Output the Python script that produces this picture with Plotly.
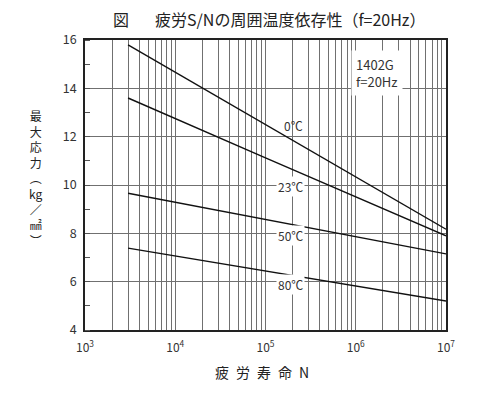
import plotly.graph_objects as go
import numpy as np

# ---- data ----
cycles = [3e3, 1e5, 1e7]
s_0c = [15.8, 12.5, 8.17]
s_23c = [13.6, 11.12, 7.9]
s_50c = [9.66, 8.58, 7.15]
s_80c = [7.39, 6.44, 5.2]
series_names = ["0℃", "23℃", "50℃", "80℃"]
label_y = [12.45, 9.95, 7.9, 5.9]
label_x = 2.75e5
decades = [3, 4, 5, 6, 7]
y_ticks = [4, 6, 8, 10, 12, 14, 16]

FONT = "Noto Sans CJK JP"
OFF = 8  # default page body margin
W, H = 500 - OFF, 396 - OFF
L, T = 85 - OFF, 40 - OFF
PW, PH = 361, 290
R = W - L - PW
B = H - T - PH


def px(x):
    return (x - OFF - L) / PW


def py(y):
    return (H - B - (y - OFF)) / PH


fig = go.Figure()
for name, vals in zip(series_names, [s_0c, s_23c, s_50c, s_80c]):
    fig.add_trace(go.Scatter(x=cycles, y=vals, mode="lines", name=name,
                             line=dict(color="#111", width=1.4), showlegend=False))

grid_vals = []
grid_text = []
for d in decades:
    for m in range(1, 10):
        if d == 7 and m > 1:
            break
        grid_vals.append(m * 10 ** d)
        grid_text.append(f"10<sup>{d}</sup>" if m == 1 else "")

fig.update_xaxes(type="log", range=[3, 7], tickmode="array", tickvals=grid_vals,
                 ticktext=grid_text, showgrid=True, gridcolor="#707070", gridwidth=1,
                 showline=True, linecolor="#222", linewidth=1.5, mirror=True,
                 ticks="", tickfont=dict(family=FONT, size=12, color="#333"),
                 ticklabelstandoff=6, zeroline=False)
fig.update_yaxes(range=[4, 16], tickmode="array", tickvals=y_ticks,
                 showgrid=True, gridcolor="#707070", gridwidth=1,
                 showline=True, linecolor="#222", linewidth=1.5, mirror=True,
                 ticks="", tickfont=dict(family=FONT, size=12.5, color="#333"),
                 ticklabelstandoff=4,
                 minor=dict(dtick=1, tick0=5, ticks="inside", ticklen=5, tickcolor="#555",
                            showgrid=False),
                 zeroline=False)

ann = []
for name, ly in zip(series_names, label_y):
    ann.append(dict(x=np.log10(label_x), y=ly, xref="x", yref="y", text=name,
                    showarrow=False, xanchor="right", yanchor="middle",
                    bgcolor="white" if name != "0℃" else "rgba(0,0,0,0)", borderpad=1,
                    font=dict(family=FONT, size=12, color="#333")))
ann.append(dict(x=5.95, y=14.63, xref="x", yref="y", text="1402G<br>f=20Hz",
                showarrow=False, xanchor="left", yanchor="middle", align="left",
                bgcolor="white", borderpad=4,
                font=dict(family=FONT, size=13, color="#333")))
ann.append(dict(x=px(121), y=py(19), xref="paper", yref="paper", text="図",
                xanchor="center", yanchor="middle",
                showarrow=False, font=dict(family=FONT, size=16, color="#222")))
ann.append(dict(x=px(290), y=py(19), xref="paper", yref="paper",
                text="疲労S/Nの周囲温度依存性（f=20Hz）",
                xanchor="center", yanchor="middle",
                showarrow=False, font=dict(family=FONT, size=16, color="#222")))
ann.append(dict(x=px(262), y=py(372), xref="paper", yref="paper",
                text="疲\u2002労\u2002寿\u2002命\u2002N",
                xanchor="center", yanchor="middle",
                showarrow=False, font=dict(family=FONT, size=14, color="#222")))
ann.append(dict(x=px(35), y=py(178), xref="paper", yref="paper",
                text="最<br>大<br>応<br>力<br>︵<br>kg<br>／<br>㎟<br>︶",
                xanchor="center", yanchor="middle", align="center",
                showarrow=False, font=dict(family=FONT, size=12, color="#222")))

fig.update_layout(width=W, height=H, margin=dict(l=L, r=R, t=T, b=B),
                  plot_bgcolor="white", paper_bgcolor="white",
                  annotations=ann)
fig.write_html("out.html")
